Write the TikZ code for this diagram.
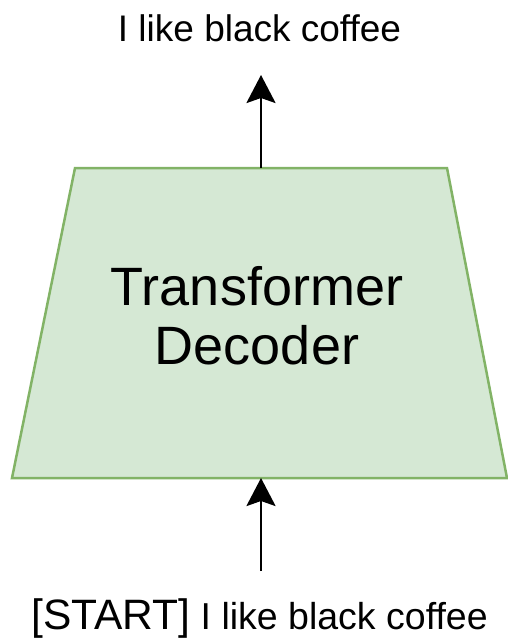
\documentclass[tikz,border=0pt]{standalone}
\usepackage{fontspec}
\setmainfont{Liberation Sans}
\usetikzlibrary{arrows.meta}
\definecolor{decfill}{HTML}{D5E8D4}
\definecolor{decdraw}{HTML}{82B366}
\tikzset{
  arr/.style={line width=2.7pt, -{Stealth[length=28pt,width=29pt,inset=5pt]}},
  lbl/.style={inner sep=0pt, anchor=base, font=\fontsize{37}{40}\selectfont},
  dectext/.style={inner sep=0pt, align=center, font=\fontsize{54}{59}\selectfont}
}
\begin{document}
\begin{tikzpicture}[x=1pt,y=1pt]
\useasboundingbox (0,0) rectangle (508,-640);
% trapezoid
\coordinate (tl) at (75,-168);
\coordinate (tr) at (447,-168);
\coordinate (br) at (507,-478);
\coordinate (bl) at (12,-478);
\coordinate (topmid) at (261,-168);
\coordinate (botmid) at (261,-478);
\filldraw[fill=decfill, draw=decdraw, line width=2.5pt, line join=miter] (tl) -- (tr) -- (br) -- (bl) -- cycle;
\node[dectext] (dec) at (257,-316) {Transformer\\Decoder};
% top output
\node[lbl] (out) at (259.5,-41) {I like black coffee};
\coordinate (outtip) at (261,-75);
\draw[arr] (topmid) -- (outtip);
% bottom input
\node[lbl, font=\fontsize{37.5}{40}\selectfont] (in) at (259.5,-629) {{\fontsize{42.5}{44}\selectfont [START]} I like black coffee};
\coordinate (instart) at (261,-571);
\draw[arr] (instart) -- (botmid);
\end{tikzpicture}
\end{document}
